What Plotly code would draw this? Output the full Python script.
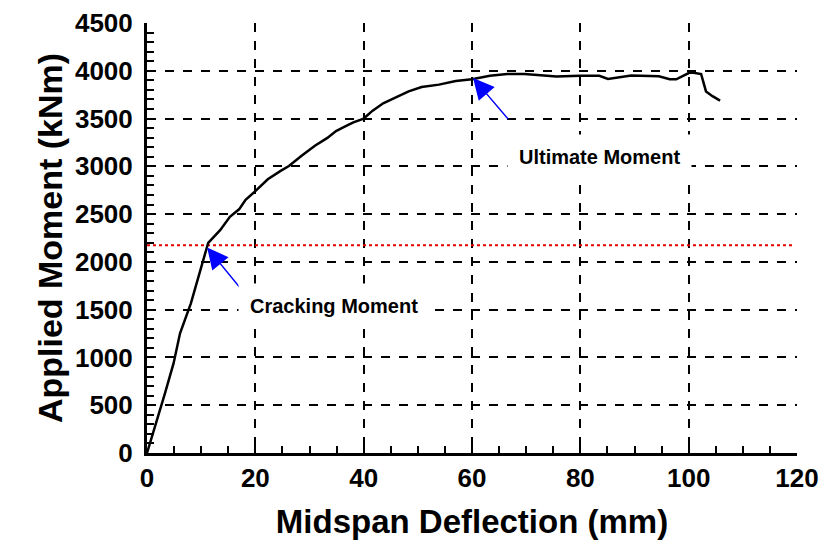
import plotly.graph_objects as go

# Measured curve: midspan deflection (mm) vs applied moment (kNm)
deflection = [0, 1.8, 3.3, 4.9, 6.1, 8.1, 10.1, 11.3, 13.5, 15.3, 17.0, 18.2, 20.0, 22.3,
              24.6, 26.2, 28.6, 31.0, 33.3, 34.9, 36.5, 38.1, 40.0, 41.6, 43.6, 46.0,
              48.3, 50.7, 53.9, 57.0, 60.0, 63.3, 66.5, 69.7, 75.6, 79.9, 83.5, 85.1,
              89.4, 94.5, 96.5, 97.7, 100.1, 100.9, 102.3, 103.2, 104.4, 105.8]
moment = [0, 325, 622, 937, 1252, 1566, 1980, 2200, 2332, 2472, 2550, 2650, 2740, 2865,
          2950, 3003, 3113, 3216, 3298, 3369, 3415, 3460, 3500, 3580, 3660, 3727,
          3784, 3830, 3855, 3894, 3911, 3947, 3965, 3965, 3940, 3947, 3947, 3915,
          3950, 3943, 3911, 3911, 3979, 3979, 3965, 3784, 3734, 3688]

cracking_moment = 2175
cracking_line_x = [0, 119.5]

x_ticks = [0, 20, 40, 60, 80, 100, 120]
y_ticks = [0, 500, 1000, 1500, 2000, 2500, 3000, 3500, 4000, 4500]

# annotations: label text positions and arrow tip / tail positions
labels = ["Cracking Moment", "Ultimate Moment"]
label_x = [34.5, 83.5]
label_y = [1535, 3095]
tip_x = [11.1, 60.2]
tip_y = [2150, 3925]
tail_x = [17.4, 66.9]
tail_y = [1713, 3480]

font_family = "Liberation Sans, Arial, sans-serif"

fig = go.Figure()
fig.add_trace(go.Scatter(x=cracking_line_x, y=[cracking_moment] * 2, mode="lines",
                         line=dict(color="#e00000", width=2, dash="dot"),
                         showlegend=False, hoverinfo="skip"))
fig.add_trace(go.Scatter(x=deflection, y=moment, mode="lines",
                         line=dict(color="black", width=2.5),
                         showlegend=False))

for i in range(len(labels)):
    fig.add_annotation(x=tip_x[i], y=tip_y[i], ax=tail_x[i], ay=tail_y[i],
                       xref="x", yref="y", axref="x", ayref="y",
                       text="", showarrow=True, arrowhead=2, arrowsize=3,
                       arrowwidth=1.4, arrowcolor="#0000ff")
    fig.add_annotation(x=label_x[i], y=label_y[i], xref="x", yref="y",
                       text=labels[i], showarrow=False, bgcolor="white",
                       borderpad=11,
                       font=dict(family=font_family, size=20, color="black",
                                 weight="bold"))

axis_common = dict(
    showline=True, linecolor="black", linewidth=3,
    showgrid=True, gridcolor="black", gridwidth=2, griddash="dash",
    zeroline=False, ticks="inside", ticklen=8, tickwidth=2, tickcolor="black",
    tickfont=dict(family=font_family, size=26, color="black", weight="bold"),
)

fig.update_xaxes(range=[0, 120], tickvals=x_ticks,
                 minor=dict(dtick=5, ticks="inside", ticklen=7, tickwidth=1.5,
                            tickcolor="black", showgrid=False),
                 ticklabelstandoff=0,
                 title=dict(text="Midspan Deflection (mm)", standoff=18,
                            font=dict(family=font_family, size=33, color="black",
                                      weight="bold")),
                 **axis_common)
fig.update_yaxes(range=[0, 4500], tickvals=y_ticks,
                 minor=dict(dtick=100, ticks="inside", ticklen=7, tickwidth=1.5,
                            tickcolor="black", showgrid=False),
                 ticklabelstandoff=6,
                 title=dict(text="Applied Moment (kNm)", standoff=3,
                            font=dict(family=font_family, size=34, color="black",
                                      weight="bold")),
                 **axis_common)

# the page adds an 8 px body margin, so the figure is made 8 px smaller
fig.update_layout(width=819, height=543,
                  margin=dict(l=139, r=30, t=15, b=98, autoexpand=False),
                  paper_bgcolor="white", plot_bgcolor="white")

fig.write_html("out.html")
